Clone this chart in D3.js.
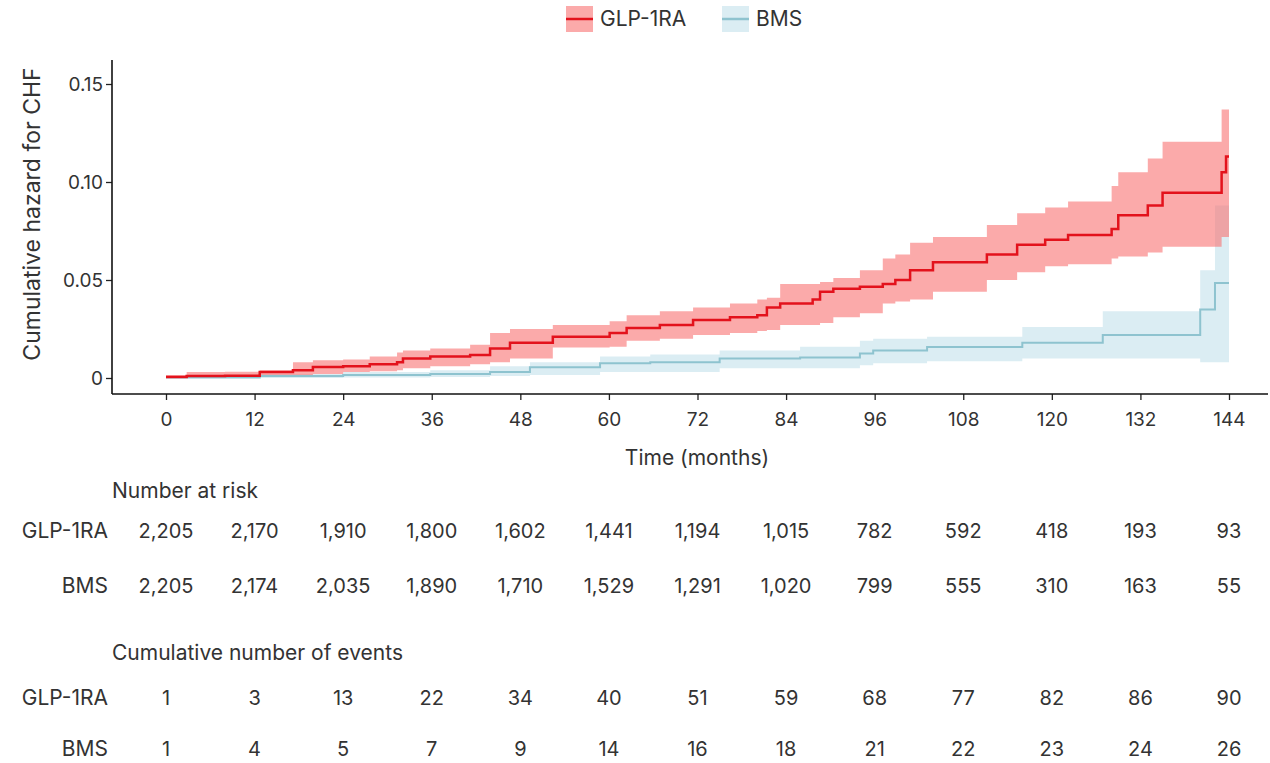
<!DOCTYPE html>
<html>
<head>
<meta charset="utf-8">
<script src="https://cdn.jsdelivr.net/npm/d3@7"></script>
<style>
  html, body { margin: 0; padding: 0; background: #fff; }
  svg { display: block; font-family: Inter, Roboto, "Noto Sans", sans-serif; }
</style>
</head>
<body>
<svg id="chart" width="1270" height="763"></svg>
<script>
// Cumulative hazard (step estimates with 95% CI), time in months
const glpTime = [0, 2.8, 8, 12.7, 17.2, 19.9, 24, 27.6, 31.3, 32.1, 35.8, 41.2, 43.9, 46.6, 52.4, 60.1, 62.4, 66.9, 71.4, 76.4, 80.1, 81.4, 83.2, 87.6, 88.6, 90.4, 94, 97.1, 98.8, 100.8, 103.9, 111.2, 115.3, 119.1, 122.2, 128.1, 129, 133, 135, 143, 143.6, 144];
const glpEst  = [0.0005, 0.001, 0.0012, 0.003, 0.004, 0.0056, 0.006, 0.007, 0.008, 0.010, 0.011, 0.0117, 0.015, 0.018, 0.021, 0.023, 0.0255, 0.027, 0.0296, 0.031, 0.032, 0.036, 0.038, 0.040, 0.044, 0.0455, 0.0465, 0.048, 0.050, 0.055, 0.059, 0.063, 0.068, 0.0705, 0.073, 0.076, 0.083, 0.088, 0.0945, 0.105, 0.113, 0.113];
const glpLow  = [0, 0.0002, 0.0003, 0.001, 0.0015, 0.002, 0.003, 0.0035, 0.004, 0.005, 0.006, 0.007, 0.008, 0.010, 0.0155, 0.016, 0.019, 0.020, 0.022, 0.023, 0.024, 0.0245, 0.027, 0.027, 0.028, 0.031, 0.033, 0.038, 0.039, 0.040, 0.044, 0.050, 0.054, 0.057, 0.058, 0.061, 0.062, 0.064, 0.067, 0.072, 0.072, 0.072];
const glpHigh = [0.0015, 0.003, 0.0032, 0.004, 0.008, 0.009, 0.0095, 0.011, 0.013, 0.014, 0.015, 0.017, 0.023, 0.025, 0.027, 0.029, 0.032, 0.034, 0.036, 0.038, 0.040, 0.041, 0.048, 0.048, 0.049, 0.051, 0.055, 0.061, 0.063, 0.069, 0.072, 0.078, 0.084, 0.087, 0.090, 0.098, 0.105, 0.112, 0.1205, 0.137, 0.137, 0.137];

const bmsTime = [0, 12.7, 24, 35.8, 43.9, 49.3, 58.8, 65.6, 75, 85.9, 94, 95.8, 103.1, 116, 126.9, 140.1, 142.1, 144];
const bmsEst  = [0.0003, 0.001, 0.0015, 0.002, 0.003, 0.0055, 0.0075, 0.008, 0.010, 0.0105, 0.0125, 0.014, 0.0158, 0.018, 0.022, 0.035, 0.0485, 0.0485];
const bmsLow  = [0, 0, 0.0002, 0.0005, 0.001, 0.0015, 0.003, 0.003, 0.005, 0.005, 0.0065, 0.0075, 0.0085, 0.010, 0.010, 0.008, 0.008, 0.008];
const bmsHigh = [0.001, 0.002, 0.003, 0.004, 0.006, 0.008, 0.011, 0.012, 0.014, 0.016, 0.019, 0.020, 0.021, 0.026, 0.034, 0.055, 0.088, 0.088];

const xTicks = [0, 12, 24, 36, 48, 60, 72, 84, 96, 108, 120, 132, 144];
const yTicks = [0, 0.05, 0.10, 0.15];
const yTickLabels = ["0", "0.05", "0.10", "0.15"];

const groups = ["GLP-1RA", "BMS"];
const atRiskGlp = ["2,205", "2,170", "1,910", "1,800", "1,602", "1,441", "1,194", "1,015", "782", "592", "418", "193", "93"];
const atRiskBms = ["2,205", "2,174", "2,035", "1,890", "1,710", "1,529", "1,291", "1,020", "799", "555", "310", "163", "55"];
const eventsGlp = [1, 3, 13, 22, 34, 40, 51, 59, 68, 77, 82, 86, 90];
const eventsBms = [1, 4, 5, 7, 9, 14, 16, 18, 21, 22, 23, 24, 26];

const RED = "#e3121c", RED_BAND = "#f87171";
const BLUE = "#8ec3cf", BLUE_BAND = "#dbedf3";
const TEXT = "#333";
const FS = "20px";

const svg = d3.select("#chart");

const x = d3.scaleLinear().domain([0, 144]).range([166, 1229]);
const y = d3.scaleLinear().domain([0, 0.15]).range([378, 84]);

const axisLeftX = 112, axisBottomY = 394;

function series(t, est, lo, hi) {
  return t.map((d, i) => ({ t: d, est: est[i], lo: lo[i], hi: hi[i] }));
}
const glp = series(glpTime, glpEst, glpLow, glpHigh);
const bms = series(bmsTime, bmsEst, bmsLow, bmsHigh);

const area = d3.area().curve(d3.curveStepAfter)
  .x(d => x(d.t)).y0(d => y(d.lo)).y1(d => y(d.hi));
const line = d3.line().curve(d3.curveStepAfter)
  .x(d => x(d.t)).y(d => y(d.est));

// confidence bands
svg.append("path").datum(bms).attr("d", area).attr("fill", BLUE_BAND);
svg.append("path").datum(glp).attr("d", area).attr("fill", RED_BAND).attr("fill-opacity", 0.6);

// estimates
svg.append("path").datum(bms).attr("d", line).attr("fill", "none")
  .attr("stroke", BLUE).attr("stroke-width", 2);
svg.append("path").datum(glp).attr("d", line).attr("fill", "none")
  .attr("stroke", RED).attr("stroke-width", 2.5);

// axes
const yAxis = svg.append("g").attr("transform", `translate(${axisLeftX},0)`)
  .call(d3.axisLeft(y).tickValues(yTicks).tickFormat((d, i) => yTickLabels[i]).tickSize(6).tickSizeOuter(0));
yAxis.select(".domain").remove();
const xAxis = svg.append("g").attr("transform", `translate(0,${axisBottomY})`)
  .call(d3.axisBottom(x).tickValues(xTicks).tickSize(6).tickSizeOuter(0));
xAxis.select(".domain").remove();

[yAxis, xAxis].forEach(g => {
  g.selectAll(".tick line").attr("stroke", "#222").attr("stroke-width", 1.3);
  g.selectAll(".tick text").attr("fill", TEXT).style("font-size", "19px")
    .style("font-family", "Inter, Roboto, sans-serif");
});
xAxis.selectAll(".tick text").attr("y", 32).attr("dy", 0);
yAxis.selectAll(".tick text").attr("x", -9);

svg.append("line").attr("x1", axisLeftX).attr("x2", axisLeftX).attr("y1", 60).attr("y2", axisBottomY)
  .attr("stroke", "#111").attr("stroke-width", 1.6);
svg.append("line").attr("x1", axisLeftX).attr("x2", 1268).attr("y1", axisBottomY).attr("y2", axisBottomY)
  .attr("stroke", "#111").attr("stroke-width", 1.6);

// axis titles
svg.append("text").attr("transform", "translate(40,214) rotate(-90)")
  .attr("text-anchor", "middle").attr("fill", TEXT).style("font-size", "23px")
  .text("Cumulative hazard for CHF");
svg.append("text").attr("x", 697).attr("y", 465).attr("text-anchor", "middle")
  .attr("fill", TEXT).style("font-size", "21px").text("Time (months)");

// legend
const legend = [
  { label: "GLP-1RA", band: RED_BAND, bandOpacity: 0.6, stroke: RED, x: 566 },
  { label: "BMS", band: BLUE_BAND, bandOpacity: 1, stroke: BLUE, x: 722 }
];
legend.forEach(l => {
  const g = svg.append("g").attr("transform", `translate(${l.x},6)`);
  g.append("rect").attr("width", 27).attr("height", 26).attr("fill", l.band).attr("fill-opacity", l.bandOpacity);
  g.append("line").attr("x1", 0).attr("x2", 27).attr("y1", 13).attr("y2", 13)
    .attr("stroke", l.stroke).attr("stroke-width", 2.5);
  g.append("text").attr("x", 34).attr("y", 20).attr("fill", TEXT)
    .style("font-size", "21px").text(l.label);
});

// risk tables
function tableTitle(text, ty) {
  svg.append("text").attr("x", 112).attr("y", ty).attr("fill", TEXT)
    .style("font-size", "21px").text(text);
}
function tableRow(label, values, ty) {
  svg.append("text").attr("x", 108).attr("y", ty).attr("text-anchor", "end")
    .attr("fill", TEXT).style("font-size", "21px").text(label);
  svg.append("g").selectAll("text").data(values).join("text")
    .attr("x", (d, i) => x(xTicks[i])).attr("y", ty).attr("text-anchor", "middle")
    .attr("fill", TEXT).style("font-size", FS).text(d => d);
}
tableTitle("Number at risk", 498);
tableRow(groups[0], atRiskGlp, 538);
tableRow(groups[1], atRiskBms, 593);
tableTitle("Cumulative number of events", 660);
tableRow(groups[0], eventsGlp, 705);
tableRow(groups[1], eventsBms, 756);
</script>
</body>
</html>
